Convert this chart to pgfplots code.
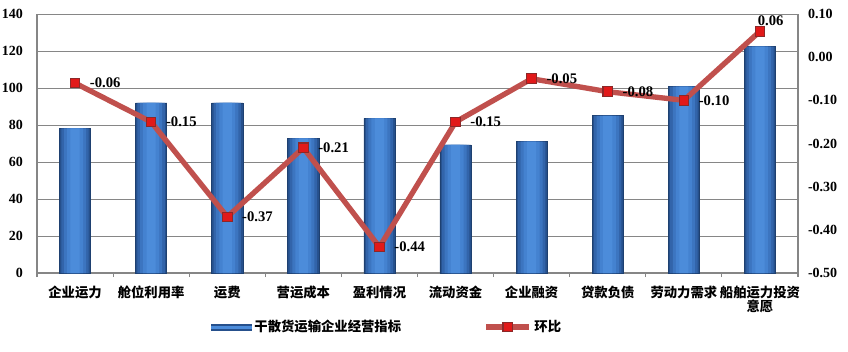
\documentclass[border=0pt]{standalone}
\usepackage{fontspec}
\setmainfont{Liberation Serif}
\newfontfamily\cjk{Noto Sans CJK SC}
\usepackage{pgfplots}
\pgfplotsset{compat=1.18}
\definecolor{barA}{RGB}{38,80,140}
\definecolor{barB}{RGB}{50,100,170}
\definecolor{barC}{RGB}{60,117,192}
\definecolor{barD}{RGB}{68,130,208}
\definecolor{barE}{RGB}{76,140,218}
\definecolor{barLight}{RGB}{92,152,228}
\definecolor{lineRed}{RGB}{192,80,77}
\definecolor{markRed}{RGB}{225,25,25}
\definecolor{markEdge}{RGB}{140,40,40}
\definecolor{gridGray}{RGB}{134,134,134}
\pgfplotstableread{
x y
0 78.2
1 92
2 92
3 72.8
4 83.6
5 69.2
6 71
7 85
8 100.7
9 122.3
}\bardata
\pgfplotstableread{
x y
0 -0.06
1 -0.15
2 -0.37
3 -0.21
4 -0.44
5 -0.15
6 -0.05
7 -0.08
8 -0.10
9 0.06
}\linedata
\usepackage{pgfplotstable}
\begin{document}
\begin{tikzpicture}
\useasboundingbox (-27.75pt,-58.5pt) rectangle (608.25pt,204.75pt);
\begin{axis}[
  at={(0,0)}, anchor=south west,
  scale only axis, width=570.75pt, height=194.25pt,
  xmin=-0.5, xmax=9.5, ymin=0, ymax=140,
  ytick={0,20,40,60,80,100,120,140},
  xtick={-0.5,0.5,...,9.5},
  x tick label as interval,
  xticklabels={企业运力,舱位利用率,运费,营运成本,盈利情况,流动资金,企业融资,贷款负债,劳动力需求,{船舶运力投资\\意愿}},
  xticklabel style={font=\cjk\bfseries\fontsize{10}{11}\selectfont, align=center, yshift=-3pt},
  yticklabel style={font=\bfseries\fontsize{10.5}{12}\selectfont, xshift=-4pt},
  /pgf/number format/assume math mode=true,
  axis lines*=left,
  axis line style={gridGray, line width=0.8pt},
  ytick style={draw=none},
  xtick style={gridGray, line width=0.8pt},
  tick align=outside, xtick pos=bottom,
  major tick length=3pt,
  ymajorgrids, grid style={gridGray, line width=0.7pt},
  ybar, bar shift=0pt,
]
\addplot[bar width=0.41, fill=barA, draw=barA!80!black, line width=0.4pt] table {\bardata};
\addplot[bar width=0.36, fill=barB, draw=none] table {\bardata};
\addplot[bar width=0.29, fill=barC, draw=none] table {\bardata};
\addplot[bar width=0.21, fill=barD, draw=none] table {\bardata};
\addplot[bar width=0.12, fill=barE, draw=none] table {\bardata};
\end{axis}
\begin{axis}[
  at={(0,0)}, anchor=south west,
  scale only axis, width=570.75pt, height=194.25pt,
  xmin=-0.5, xmax=9.5, ymin=-0.5, ymax=0.1,
  ytick={-0.5,-0.4,-0.3,-0.2,-0.1,0,0.1},
  axis y line*=right, axis x line=none,
  axis line style={gridGray, line width=0.8pt},
  ytick style={draw=none},
  yticklabel style={font=\bfseries\fontsize{10.5}{12}\selectfont, xshift=4pt,
    /pgf/number format/.cd, fixed, fixed zerofill, precision=2, assume math mode=true},
  legend style={at={(0.4606,-0.2085)}, anchor=center, draw=none, fill=none,
    font=\cjk\bfseries\fontsize{10}{11}\selectfont, legend columns=2,
    /tikz/every even column/.append style={column sep=60pt}},
]
\addlegendimage{legend image code/.code={\fill[barA] (0pt,-2.2pt) rectangle (30pt,2.2pt); \fill[barE] (0pt,-0.8pt) rectangle (30pt,0.8pt);}}
\addlegendentry{干散货运输企业经营指标}
\addplot[lineRed, line width=4pt, mark=square*, mark size=3.6pt,
  mark options={fill=markRed, draw=markEdge, line width=0.8pt},
  legend image code/.code={\draw[mark repeat=2,mark phase=2] plot coordinates {(0pt,0pt) (16pt,0pt) (32pt,0pt)};}]
  table {\linedata};
\addlegendentry{环比}
\addplot[forget plot, only marks, mark=none,
  nodes near coords={\pgfmathprintnumber[fixed,fixed zerofill,precision=2,assume math mode=true]{\pgfplotspointmeta}},
  point meta=y,
  every node near coord/.append style={font=\bfseries\fontsize{11}{12}\selectfont, anchor=west, inner sep=0pt, xshift=11pt, text=black}]
  coordinates {(0,-0.06) (1,-0.15) (2,-0.37) (3,-0.21) (4,-0.44) (5,-0.15) (6,-0.05) (7,-0.08) (8,-0.10)};
\addplot[forget plot, only marks, mark=none,
  nodes near coords={\pgfmathprintnumber[fixed,fixed zerofill,precision=2,assume math mode=true]{\pgfplotspointmeta}},
  point meta=y,
  every node near coord/.append style={font=\bfseries\fontsize{11}{12}\selectfont, anchor=south, inner sep=0pt, xshift=8pt, yshift=4pt, text=black}]
  coordinates {(9,0.06)};
\end{axis}
\end{tikzpicture}
\end{document}
